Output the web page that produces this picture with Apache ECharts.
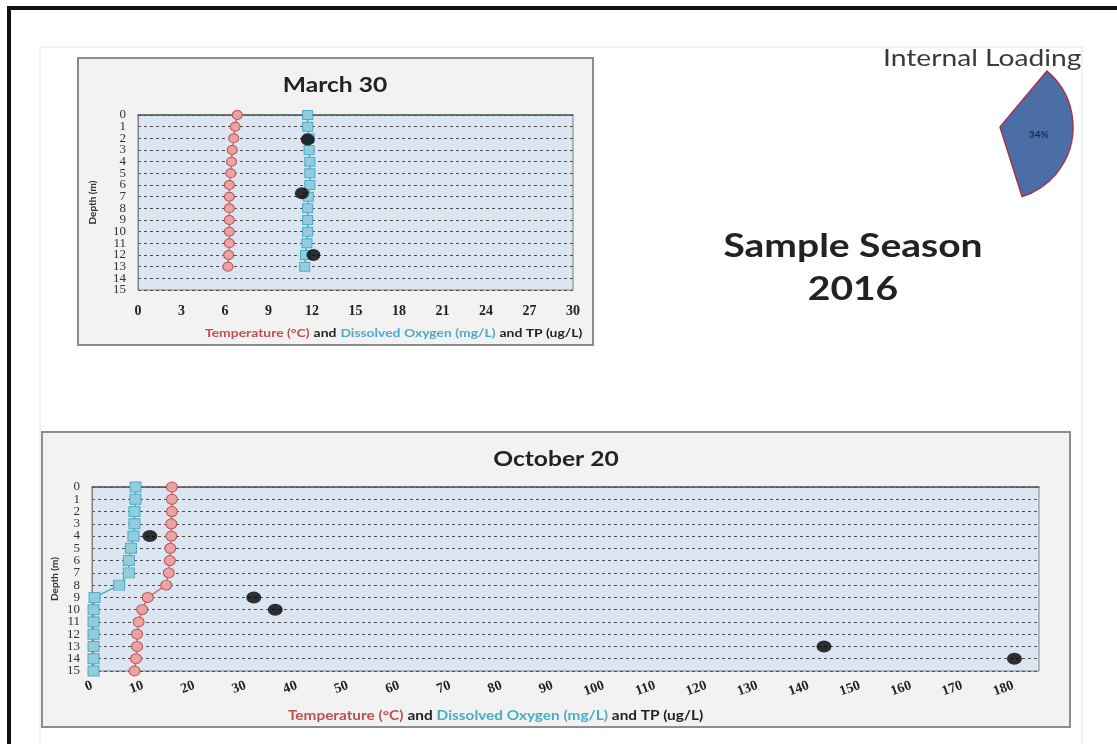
<!DOCTYPE html>
<html>
<head>
<meta charset="utf-8">
<script src="https://cdn.jsdelivr.net/npm/echarts@6/dist/echarts.min.js"></script>
<style>
  html, body { margin: 0; padding: 0; background: #fff; }
  #chart { width: 1117px; height: 744px; }
</style>
</head>
<body>
<div id="chart"></div>
<script>
// depth profiles
const depthTicks = ['0', '1', '2', '3', '4', '5', '6', '7', '8', '9', '10', '11', '12', '13', '14', '15'];

const marchDepths = [0, 1, 2, 3, 4, 5, 6, 7, 8, 9, 10, 11, 12, 13];
const marchTemp = [6.85, 6.7, 6.6, 6.5, 6.45, 6.4, 6.3, 6.3, 6.3, 6.3, 6.3, 6.3, 6.25, 6.2];
const marchDO = [11.7, 11.7, 11.8, 11.8, 11.85, 11.85, 11.85, 11.75, 11.7, 11.7, 11.7, 11.65, 11.55, 11.5];
const marchTPDepths = [2.1, 6.7, 12];
const marchTP = [11.7, 11.3, 12.1];

const octDepths = [0, 1, 2, 3, 4, 5, 6, 7, 8, 9, 10, 11, 12, 13, 14, 15];
const octTemp = [15.6, 15.6, 15.6, 15.5, 15.5, 15.3, 15.2, 15.0, 14.5, 10.9, 9.8, 9.1, 8.8, 8.8, 8.6, 8.3];
const octDO = [8.5, 8.5, 8.3, 8.3, 8.1, 7.6, 7.2, 7.2, 5.3, 0.5, 0.3, 0.3, 0.3, 0.3, 0.3, 0.3];
const octTPDepths = [4, 9, 10, 13, 14];
const octTP = [11.3, 31.6, 35.8, 143, 180.2];

const loadingShare = [34, 66];

const pairs = (xs, ds) => xs.map((v, i) => [v, ds[i]]);

const RED = '#c0504d', TEAL = '#4bacc6';
const serif = 'Liberation Serif';
const sans = 'Lato';
const STRETCH = 1.2; // the source picture is stretched sideways

const chart = echarts.init(document.getElementById('chart'));

function xAxisFor(gridIndex, max, interval, rotate, size) {
  return {
    gridIndex: gridIndex, type: 'value', min: 0, max: max, interval: interval,
    axisLine: { show: true, lineStyle: { color: '#595959', width: 1.5 } },
    axisTick: { show: false },
    splitLine: { show: false },
    axisLabel: {
      color: '#222', fontFamily: serif, fontWeight: 'bold', fontSize: size,
      margin: 14, rotate: rotate, showMinLabel: true, showMaxLabel: max % interval === 0
    }
  };
}
// value axis carries the data and the dashed lines
function yAxisFor(gridIndex, gap) {
  return {
    gridIndex: gridIndex, type: 'value', position: 'left', inverse: true, min: 0, max: 15, interval: 1,
    name: 'Depth (m)', nameLocation: 'middle', nameGap: gap, nameRotate: 90,
    nameTextStyle: { fontFamily: sans, fontWeight: 'bold', fontSize: 10, color: '#333' },
    axisLine: { show: true, lineStyle: { color: '#7f7f7f' } },
    axisTick: { show: false },
    axisLabel: { show: false },
    splitLine: { show: true, lineStyle: { color: '#4d4d4d', type: [3, 3], width: 1 } }
  };
}
// category twin only prints every depth label (tight spacing)
function yLabelsFor(gridIndex) {
  return {
    gridIndex: gridIndex, type: 'category', position: 'left', offset: 0,
    data: depthTicks, inverse: true, boundaryGap: false,
    axisLine: { show: false }, axisTick: { show: false }, splitLine: { show: false },
    axisLabel: { interval: 0, color: '#333', fontFamily: serif, fontSize: 13, margin: 12 }
  };
}
function profileSeries(idx, temp, dox, tp, depths, tpDepths, sym, dot) {
  return [
    {
      name: 'Temperature', type: 'line', xAxisIndex: idx, yAxisIndex: idx,
      data: pairs(temp, depths), symbol: 'circle', symbolSize: sym,
      lineStyle: { color: '#d07070', width: 1.5 },
      itemStyle: { color: '#e8a3a3', borderColor: '#c0504d', borderWidth: 1 }, z: 3
    },
    {
      name: 'Dissolved Oxygen', type: 'line', xAxisIndex: idx, yAxisIndex: idx,
      data: pairs(dox, depths), symbol: 'rect', symbolSize: sym,
      lineStyle: { color: TEAL, width: 1.5 },
      itemStyle: { color: '#93cddd', borderColor: TEAL, borderWidth: 1 }, z: 3
    },
    {
      name: 'TP', type: 'scatter', xAxisIndex: idx, yAxisIndex: idx,
      data: pairs(tp, tpDepths), symbol: 'circle', symbolSize: dot,
      itemStyle: { color: '#000' }, z: 4
    }
  ];
}
// stretched text, anchored at (x, y)
function label(x, y, text, size, weight, color, align) {
  return {
    type: 'text', x: x, y: y, scaleX: STRETCH, z: 5,
    style: { text: text, fontFamily: sans, fontWeight: weight, fontSize: size, fill: color,
      textAlign: align, textVerticalAlign: 'middle' }
  };
}
function axisTitle(x, y, size) {
  const part = (c) => ({ fill: c, fontFamily: sans, fontWeight: 'bold', fontSize: size });
  return {
    type: 'text', x: x, y: y, scaleX: STRETCH, z: 5,
    style: {
      text: '{r|Temperature (°C)} {k|and} {b|Dissolved Oxygen (mg/L)} {k|and TP (ug/L)}',
      textAlign: 'left', textVerticalAlign: 'middle',
      rich: { r: part(RED), b: part(TEAL), k: part('#222') }
    }
  };
}

chart.setOption({
  animation: false,
  backgroundColor: '#fff',
  graphic: [
    { type: 'rect', z: -10, shape: { x: 40, y: 47, width: 1042, height: 720 },
      style: { fill: '#fff', stroke: '#e3e3e3', lineWidth: 1 } },
    { type: 'line', z: 10, shape: { x1: 7, y1: 8, x2: 1117, y2: 8 },
      style: { stroke: '#111', lineWidth: 4 } },
    { type: 'line', z: 10, shape: { x1: 9, y1: 6, x2: 9, y2: 744 },
      style: { stroke: '#111', lineWidth: 4 } },
    { type: 'rect', z: -5, shape: { x: 78, y: 58, width: 515, height: 287 },
      style: { fill: '#f2f2f2', stroke: '#8c8c8c', lineWidth: 2 } },
    { type: 'rect', z: -5, shape: { x: 42, y: 432, width: 1028, height: 295 },
      style: { fill: '#f2f2f2', stroke: '#8c8c8c', lineWidth: 2 } },
    label(335, 85, 'March 30', 20.5, 'bold', '#222', 'center'),
    label(556, 459, 'October 20', 20.5, 'bold', '#222', 'center'),
    label(853, 247, 'Sample Season', 32.5, 'bold', '#222', 'center'),
    label(853, 290, '2016', 32.5, 'bold', '#222', 'center'),
    label(883, 58, 'Internal Loading', 23.5, 'normal', '#3a3a3a', 'left'),
    axisTitle(205, 333, 11.6),
    axisTitle(288, 716, 12.8)
  ],
  grid: [
    { left: 138, top: 115, width: 435, height: 175, show: true,
      backgroundColor: '#dce6f2', borderColor: '#7f7f7f', borderWidth: 1 },
    { left: 92, top: 487, width: 947, height: 184, show: true,
      backgroundColor: '#dce6f2', borderColor: '#7f7f7f', borderWidth: 1 }
  ],
  xAxis: [xAxisFor(0, 30, 3, 0, 14), xAxisFor(1, 185, 10, 20, 14)],
  yAxis: [yAxisFor(0, 40), yAxisFor(1, 32), yLabelsFor(0), yLabelsFor(1)],
  series: [
    ...profileSeries(0, marchTemp, marchDO, marchTP, marchDepths, marchTPDepths, [10, 9], [14, 12]),
    ...profileSeries(1, octTemp, octDO, octTP, octDepths, octTPDepths, [11, 10], [15, 12]),
    {
      type: 'pie', center: [1000, 127], radius: 73, startAngle: 50, clockwise: true,
      silent: true, z: 3,
      label: { position: 'inside', formatter: '{c}%', fontFamily: sans, fontWeight: 'bold',
        fontSize: 10, color: '#1c2a4a' },
      labelLine: { show: false },
      data: [
        { value: loadingShare[0],
          itemStyle: { color: '#4a6ea5', borderColor: '#a3354f', borderWidth: 1.5 } },
        { value: loadingShare[1], label: { show: false },
          itemStyle: { color: 'rgba(0,0,0,0)', borderWidth: 0 } }
      ]
    }
  ]
});
</script>
</body>
</html>
